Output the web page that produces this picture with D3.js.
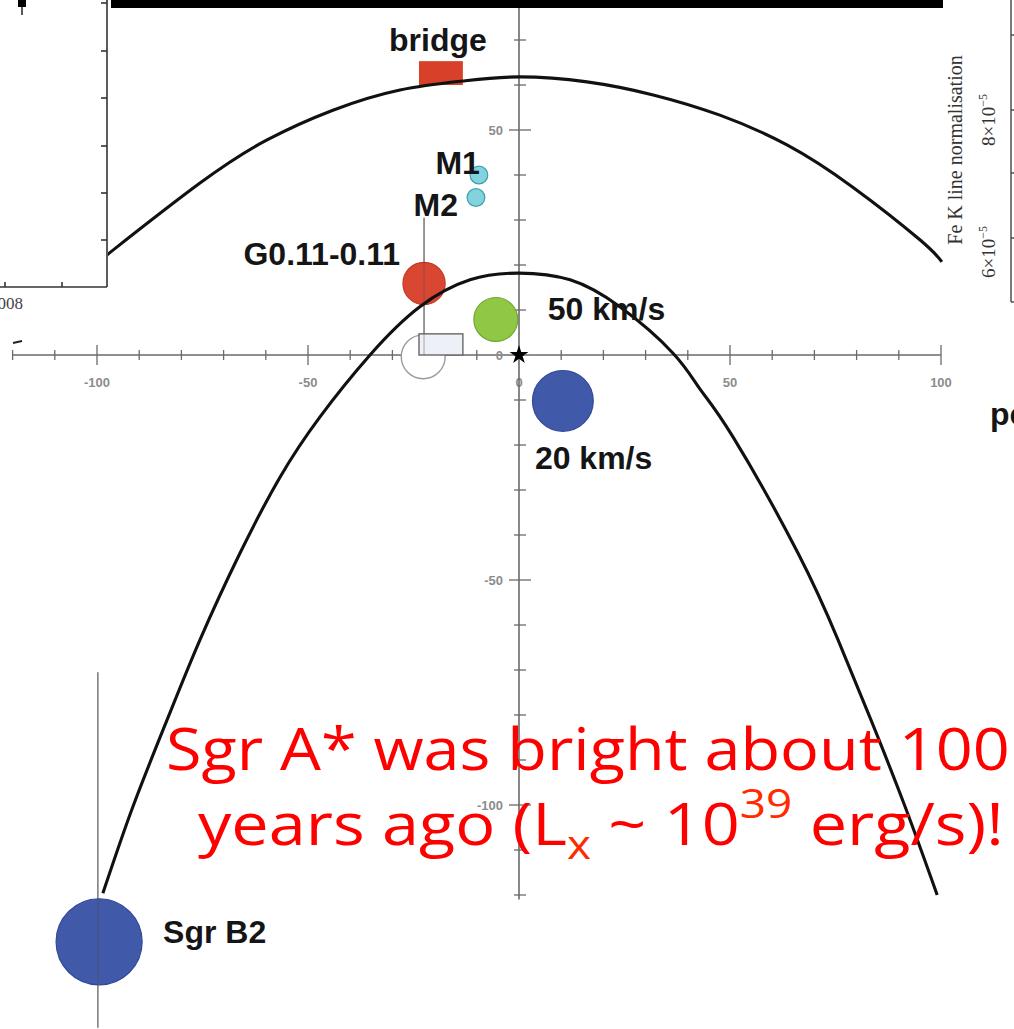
<!DOCTYPE html>
<html><head><meta charset="utf-8">
<script src="https://cdn.jsdelivr.net/npm/d3@7"></script>
<style>body{margin:0;background:#fff;overflow:hidden}svg{display:block}</style>
</head><body>
<svg id="c" width="1014" height="1029"></svg>
<script>
// ---------------- DATA (pc) ----------------
// echo parabolas: [x (pc), y (pc)]
const outerEcho = [[-97.5,22.3],[-96.2,23.3],[-75.6,38.2],[-59.7,47.8],[-44.1,54.4],[-28.2,58.9],[-13.3,60.9],[0,61.8],[16.1,60.7],[31.8,57.8],[47.6,53.3],[63.5,46.7],[79.1,37.3],[95.0,25.6],[100.2,20.7]];
const innerEcho = [[-98.6,-119.6],[-91.5,-100.4],[-83.4,-81.1],[-75.6,-63.3],[-66.1,-44.0],[-56.6,-27.1],[-47.2,-13.8],[-35.3,0],[-23.5,10.7],[-11.6,16.7],[0,18.2],[12.1,16.7],[23.9,10.7],[36.5,0.4],[42.9,-7.6],[50.7,-18.2],[66.1,-44.0],[75.6,-63.3],[83.4,-81.1],[91.5,-100.4],[99.1,-120.0]];
// molecular clouds: position and radius in pc
const cloudNames = ["M1","M2","G0.11-0.11","50 km/s","20 km/s","Sgr B2"];
const cloudX     = [-9.5,-10.2,-22.5,-5.5,10.4,-99.5];
const cloudY     = [40.0,35.0,15.9,7.9,-10.2,-130.4];
const cloudR     = [2.1,2.1,5.0,5.2,7.2,10.2];
const cloudKind  = ["cyan","cyan","red","green","blue","blue"];
const bridgeBox  = [-23.7,-13.3,60.0,65.3];       // x0,x1,y0,y1
const openBox    = [-23.7,-13.3,0,4.7];
const openCircle = [-22.7,-0.4,5.2];
const dropLines  = [[-22.5,30.5,0],[-99.8,-70.5,-149.5]]; // x, yTop, yBottom
// axis ticks
const xMajor = [-100,-50,0,50,100];
const xMinor = [-120,-110,-90,-80,-70,-60,-40,-30,-20,-10,10,20,30,40,60,70,80,90];
const yMajor = [50,-50,-100];
const yMinor = [70,60,40,30,20,10,-10,-20,-30,-40,-60,-70,-80,-90,-110,-120];
const xLabels = ["-100","-50","0","50","100"];
const yLabelVals = [50,0,-50,-100];
// inset remnants
const leftInsetTicksY = [3,51,98,146,193,240];
const rightInsetTicksY = [35,110,173,238];

// ---------------- STYLE ----------------
const colors = {cyan:"#7fd2dd", red:"#d8402a", green:"#8cc63f", blue:"#3a54a5"};
const strokes = {cyan:"#3d9fae", red:"#c23a25", green:"#6ea836", blue:"#34489a"};
const labelOffset = {"M1":[1,-1,"end"],"M2":[-18,18.5,"end"],"G0.11-0.11":[-24,-18.5,"end"],"50 km/s":[52,0.5,"start"],"20 km/s":[-28,68,"start"],"Sgr B2":[64,1,"start"]};

const svg = d3.select("#c");
const x = d3.scaleLinear().domain([-100,100]).range([97,941]);
const y = d3.scaleLinear().domain([50,-100]).range([130,805]);
const rpx = v => x(v) - x(0);

// axes (gray, ticks crossing)
const axCol = "#6a6a6a";
const tf = "Liberation Sans, Arial, sans-serif";
const gX = svg.append("g");
gX.append("line").attr("x1",x(-120)).attr("x2",x(100)).attr("y1",y(0)).attr("y2",y(0)).attr("stroke",axCol).attr("stroke-width",1.6);
gX.selectAll("line.mn").data(xMinor).join("line").attr("x1",d=>x(d)).attr("x2",d=>x(d)).attr("y1",y(0)-5).attr("y2",y(0)+5).attr("stroke",axCol).attr("stroke-width",1.3);
gX.selectAll("line.mj").data(xMajor.filter(d=>d!==0)).join("line").attr("x1",d=>x(d)).attr("x2",d=>x(d)).attr("y1",y(0)-10).attr("y2",y(0)+10).attr("stroke",axCol).attr("stroke-width",1.3);
gX.selectAll("text").data(xMajor).join("text").attr("x",d=>x(d)).attr("y",y(0)+32)
  .attr("text-anchor","middle").attr("font-family",tf).attr("font-size",13).attr("font-weight","bold")
  .attr("fill","#8c8c8c").text((d,i)=>xLabels[i]);

const gY = svg.append("g");
gY.append("line").attr("x1",x(0)).attr("x2",x(0)).attr("y1",y(79)).attr("y2",y(-121)).attr("stroke",axCol).attr("stroke-width",1.6);
gY.selectAll("line.mn").data(yMinor).join("line").attr("x1",x(0)-5).attr("x2",x(0)+7).attr("y1",d=>y(d)).attr("y2",d=>y(d)).attr("stroke",axCol).attr("stroke-width",1.3);
gY.selectAll("line.mj").data(yMajor).join("line").attr("x1",x(0)-10).attr("x2",x(0)+12).attr("y1",d=>y(d)).attr("y2",d=>y(d)).attr("stroke",axCol).attr("stroke-width",1.3);
gY.selectAll("text").data(yLabelVals).join("text").attr("x",x(0)-16).attr("y",d=>y(d)+5)
  .attr("text-anchor","end").attr("font-family",tf).attr("font-size",13).attr("font-weight","bold")
  .attr("fill","#8c8c8c").text(d=>String(d));

// drop lines
svg.selectAll("line.drop").data(dropLines).join("line")
  .attr("x1",d=>x(d[0])).attr("x2",d=>x(d[0])).attr("y1",d=>y(d[1])).attr("y2",d=>y(d[2]))
  .attr("stroke","#9a9a9a").attr("stroke-width",1.6);

// open circle + open box
svg.append("circle").attr("cx",x(openCircle[0])).attr("cy",y(openCircle[1])).attr("r",rpx(openCircle[2]))
  .attr("fill","#fff").attr("stroke","#9a9a9a").attr("stroke-width",1.4);
svg.append("rect").attr("x",x(openBox[0])).attr("y",y(openBox[3])).attr("width",x(openBox[1])-x(openBox[0])).attr("height",y(openBox[2])-y(openBox[3]))
  .attr("fill","#eef0f7").attr("stroke","#666").attr("stroke-width",1.4);

// clouds
const clouds = cloudNames.map((n,i)=>({name:n,x:cloudX[i],y:cloudY[i],r:cloudR[i],k:cloudKind[i]}));
svg.selectAll("circle.cl").data(clouds).join("circle")
  .attr("cx",d=>x(d.x)).attr("cy",d=>y(d.y)).attr("r",d=>rpx(d.r))
  .attr("fill",d=>colors[d.k]).attr("stroke",d=>strokes[d.k]).attr("stroke-width",1.2).attr("fill-opacity",0.97);
svg.selectAll("line.drop2").data(dropLines).join("line")
  .attr("x1",d=>x(d[0])).attr("x2",d=>x(d[0])).attr("y1",d=>y(d[1])).attr("y2",d=>y(d[2]))
  .attr("stroke","#555").attr("stroke-opacity",0.35).attr("stroke-width",1.4);

// bridge
svg.append("rect").attr("x",x(bridgeBox[0])).attr("y",y(bridgeBox[3])).attr("width",x(bridgeBox[1])-x(bridgeBox[0])).attr("height",y(bridgeBox[2])-y(bridgeBox[3]))
  .attr("fill",colors.red);

// echo curves
const line = d3.line().x(d=>x(d[0])).y(d=>y(d[1])).curve(d3.curveNatural);
[outerEcho, innerEcho].forEach(pts=>{
  svg.append("path").attr("d",line(pts)).attr("fill","none").attr("stroke","#111").attr("stroke-width",3.1);
});

// Sgr A* star
svg.append("path").attr("d",d3.symbol(d3.symbolStar,110)()).attr("transform",`translate(${x(0)},${y(0)})`).attr("fill","#000");

// labels
const lf = "Liberation Sans, Arial, Helvetica, sans-serif";
svg.selectAll("text.cl").data(clouds).join("text")
  .attr("x",d=>x(d.x)+labelOffset[d.name][0]).attr("y",d=>y(d.y)+labelOffset[d.name][1])
  .attr("text-anchor",d=>labelOffset[d.name][2]).attr("font-family",lf).attr("font-weight","bold").attr("font-size",32).attr("fill","#151515")
  .text(d=>d.name);
svg.append("text").attr("x",(x(bridgeBox[0])+x(bridgeBox[1]))/2-3).attr("y",y(bridgeBox[3])-10)
  .attr("text-anchor","middle").attr("font-family",lf).attr("font-weight","bold").attr("font-size",32).attr("fill","#151515").text("bridge");
svg.append("text").attr("x",990).attr("y",425).attr("font-family",lf).attr("font-weight","bold").attr("font-size",32).attr("fill","#151515").text("pc");

// ---------------- insets (remnants of neighbouring panels) ----------------
const li = svg.append("g");
li.append("rect").attr("x",0).attr("y",0).attr("width",108).attr("height",326).attr("fill","#fff");
li.append("line").attr("x1",107).attr("x2",107).attr("y1",0).attr("y2",287).attr("stroke","#333").attr("stroke-width",1.6);
li.append("line").attr("x1",0).attr("x2",107).attr("y1",287).attr("y2",287).attr("stroke","#333").attr("stroke-width",1.6);
li.selectAll("line.t").data(leftInsetTicksY).join("line").attr("x1",101).attr("x2",107).attr("y1",d=>d).attr("y2",d=>d).attr("stroke","#333").attr("stroke-width",1.6);
li.selectAll("line.b").data([5,62]).join("line").attr("x1",d=>d).attr("x2",d=>d).attr("y1",282).attr("y2",287).attr("stroke","#333").attr("stroke-width",1.6);
li.append("rect").attr("x",18).attr("y",0).attr("width",8).attr("height",7).attr("fill","#000");
li.append("line").attr("x1",22).attr("x2",22).attr("y1",0).attr("y2",15).attr("stroke","#000").attr("stroke-width",1.3);
li.append("text").attr("x",6).attr("y",309).attr("text-anchor","middle").attr("font-family","Liberation Serif, Times New Roman, serif").attr("font-size",17).attr("fill","#444").text("2008");
svg.append("line").attr("x1",13).attr("x2",22).attr("y1",343).attr("y2",341).attr("stroke","#222").attr("stroke-width",2);
svg.append("rect").attr("x",111).attr("y",0).attr("width",832).attr("height",8).attr("fill","#000");
const ri = svg.append("g");
ri.append("rect").attr("x",943).attr("y",0).attr("width",71).attr("height",361).attr("fill","#fff");
ri.append("line").attr("x1",1011).attr("x2",1011).attr("y1",0).attr("y2",302).attr("stroke","#444").attr("stroke-width",1.4);
ri.append("line").attr("x1",1011).attr("x2",1014).attr("y1",302).attr("y2",302).attr("stroke","#444").attr("stroke-width",1.4);
ri.selectAll("line.t").data(rightInsetTicksY).join("line").attr("x1",1011).attr("x2",1014).attr("y1",d=>d).attr("y2",d=>d).attr("stroke","#444").attr("stroke-width",1.4);
const sf = "Liberation Serif, Times New Roman, serif";
ri.append("text").attr("transform","translate(962,150) rotate(-90)").attr("text-anchor","middle").attr("font-family",sf).attr("font-size",20).attr("fill","#333").text("Fe K line normalisation");
[["8×10","−5",120],["6×10","−5",252]].forEach(t=>{
  const tx = ri.append("text").attr("transform",`translate(995,${t[2]}) rotate(-90)`).attr("text-anchor","middle").attr("font-family",sf).attr("font-size",19).attr("fill","#333");
  tx.append("tspan").text(t[0]);
  tx.append("tspan").attr("dy",-8).attr("font-size",12).text(t[1]);
});

// ---------------- red annotation ----------------
const rf = "Comic Sans MS, Open Sans, sans-serif";
function fit(sel, x0, w){
  const bb = sel.node().getBBox();
  sel.attr("transform",`translate(${x0},0) scale(${w/bb.width},1) translate(${-bb.x},0)`);
}
const t1 = svg.append("text").attr("x",0).attr("y",770).attr("font-family",rf).attr("font-size",58).attr("fill","#ff0000").text("Sgr A* was bright about 100");
fit(t1,166,844);
const t2 = svg.append("text").attr("x",0).attr("y",845).attr("font-family",rf).attr("font-size",58).attr("fill","#ff0000");
t2.append("tspan").text("years ago (L");
t2.append("tspan").attr("dy",14).attr("font-size",40).attr("fill","#ff2a00").text("x");
t2.append("tspan").attr("dy",-14).text(" ~ 10");
t2.append("tspan").attr("dy",-27).attr("font-size",40).attr("fill","#ff2a00").text("39");
t2.append("tspan").attr("dy",27).text(" erg/s)!");
fit(t2,198,806);
</script>
</body></html>
